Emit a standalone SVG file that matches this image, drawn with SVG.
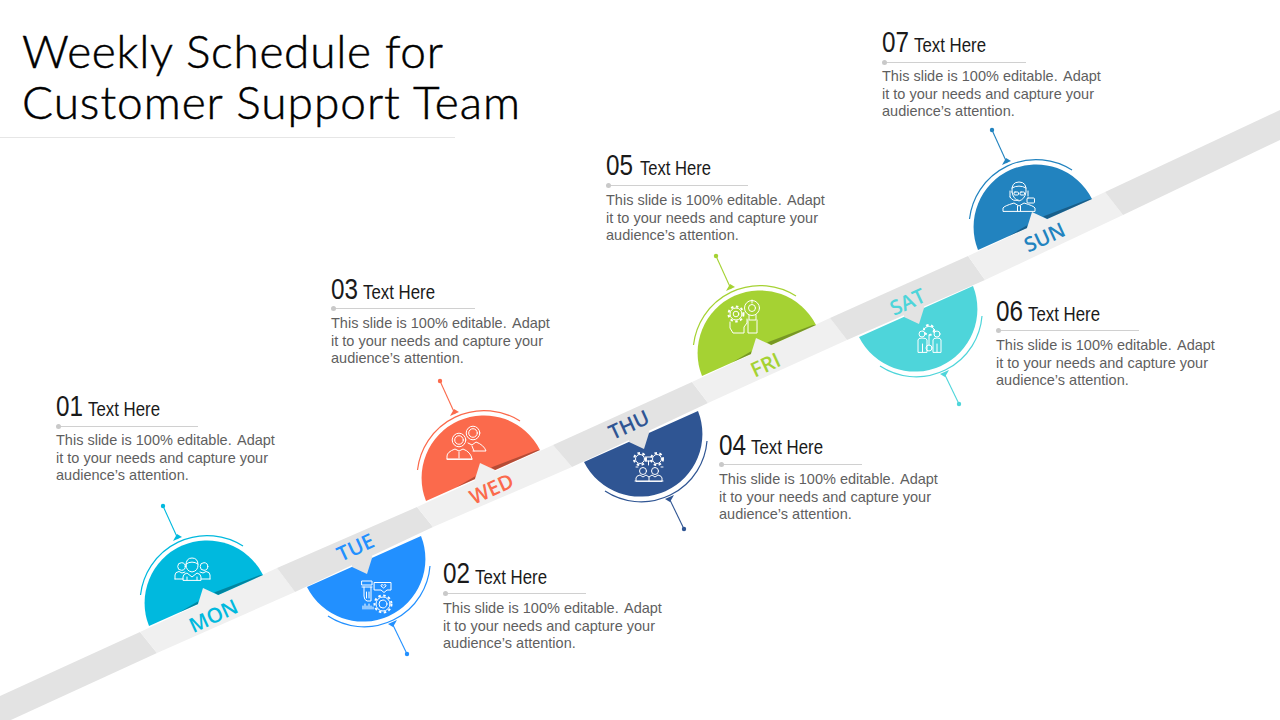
<svg xmlns="http://www.w3.org/2000/svg" width="1280" height="720" viewBox="0 0 1280 720">
<style>
text{font-family:"Liberation Sans",Arial,sans-serif}
.title{font-family:Lato,"Liberation Sans",sans-serif;font-weight:300;font-size:46px;fill:#000;stroke:#000;stroke-width:.5px}
.num{font-size:29px;fill:#1a1a1a}
.head{font-size:20px;fill:#1a1a1a}
.body{font-size:14.5px;fill:#5f5f5f;white-space:pre}
.day{font-family:"Open Sans",sans-serif;font-weight:600;font-size:20.5px;text-anchor:middle;fill:currentColor}
.rule{stroke:#d0d0d0;stroke-width:1}
.rdot{fill:#c9c9c9}
.ic{fill:none;stroke:#fff;stroke-width:1;stroke-linejoin:round;stroke-linecap:round}
.teeth{stroke-width:2;stroke-dasharray:2.500 2.500;stroke-linecap:butt}
.mon{color:#00b9de}.tue{color:#2290ff}.wed{color:#fb6a4c}.thu{color:#2f5593}.fri{color:#a5d233}.sat{color:#4ed5da}.sun{color:#2283bf}
.lead{stroke:currentColor;stroke-width:1.1;fill:none}
.tip{fill:currentColor}
</style>
<defs>
<g id="cap-up">
<path d="M-56,25A62.500,62.500 0 0 1 58,-26Z" fill="currentColor"/>
<path d="M-64.500,-6A67,67 0 0 1 38,-55" fill="none" stroke="currentColor" stroke-width="1.2"/>
<path d="M13,-6L58,-26L55,-26L9,-8.500Z" fill="#000" opacity=".28"/>
<path d="M-7,3L-26,11.500L-6.400,0Z" fill="#000" opacity=".28"/>
<path d="M13,-6L-2,-13L-7,3L-7,8L13,0Z" fill="#f0f0f0"/>
</g>
<g id="cap-down">
<path d="M-56,25A62.500,62.500 0 0 1 58,-26Z" fill="currentColor" transform="rotate(180)"/>
<path d="M65,5A66,66 0 0 1 -37,55" fill="none" stroke="currentColor" stroke-width="1.2"/>
<path d="M-13,6L2,13L7,-3L7,-8L-13,0Z" fill="#e3e3e3"/>
</g>
<g id="stem-up">
<path class="lead" d="M-27,-62L-42,-95"/>
<circle class="tip" cx="-42" cy="-95" r="2.200"/>
<path class="tip" d="M-32,-60L-23,-64L-28,-67Z"/>
</g>
<g id="stem-down">
<path class="lead" d="M27,62L42,93"/>
<circle class="tip" cx="42" cy="93" r="2.200"/>
<path class="tip" d="M32,59L23,63L28,66Z"/>
</g>
</defs>
<rect width="1280" height="720" fill="#fff"/>

<g id="band">
<path d="M0,696L140,632L157,653L0,725Z" fill="#e3e3e3"/>
<path d="M140,632L277,568L295,592L157,653Z" fill="#f0f0f0"/>
<path d="M277,568L417,507L433,527L295,592Z" fill="#e3e3e3"/>
<path d="M417,507L553,445L572,467L433,527Z" fill="#f0f0f0"/>
<path d="M553,445L692,382L708,403L572,467Z" fill="#e3e3e3"/>
<path d="M692,382L830,318L847,340L708,403Z" fill="#f0f0f0"/>
<path d="M830,318L968,256L985,280L847,340Z" fill="#e3e3e3"/>
<path d="M968,256L1105,192L1123,215L985,280Z" fill="#f0f0f0"/>
<path d="M1105,192L1280,110L1280,140L1123,215Z" fill="#e3e3e3"/>
</g>

<g id="title">
<text class="title" x="22" y="68" textLength="421" lengthAdjust="spacing">Weekly Schedule for</text>
<text class="title" x="22" y="119" textLength="498" lengthAdjust="spacing">Customer Support Team</text>
<path d="M0,137.500H455" stroke="#e6e6e6" stroke-width="1"/>
</g>

<g id="connectors">
<use href="#stem-up" class="mon" x="205" y="601"/>
<use href="#stem-down" class="tue" x="365" y="561"/>
<use href="#stem-up" class="wed" x="482" y="476"/>
<use href="#stem-down" class="thu" x="642" y="436"/>
<use href="#stem-up" class="fri" x="758" y="351"/>
<use href="#stem-down" class="sat" x="917" y="311"/>
<use href="#stem-up" class="sun" x="1034" y="225"/>
</g>

<g id="node-mon" class="mon">
<use href="#cap-up" x="205" y="601"/>
<text class="day" transform="translate(216.500,622.500) rotate(-24.6)">MON</text>
<g class="ic">
<path d="M186,565Q186,558 192,558Q198,558 198,565Q198,571 192,572Q186,571 186,565Z"/><path d="M186,564Q192,560 198,564"/>
<path d="M183,580V577Q183,574 187,573L192,577L197,573Q201,574 201,577V580ZM187,580V577M197,580V577"/>
<circle cx="181.500" cy="566.500" r="3.800"/><path d="M175,579V575Q175,572 179,571.500L182,573L185,572M175,579H183"/>
<circle cx="204" cy="566.500" r="3.800"/><path d="M210,579V575Q210,572 206,571.500L203,573L200,572M201,579H210"/>
</g>
<text class="num" x="56" y="416" textLength="27" lengthAdjust="spacingAndGlyphs">01</text>
<text class="head" x="88" y="416" textLength="72" lengthAdjust="spacingAndGlyphs">Text Here</text>
<path class="rule" d="M58,426.500H198"/><circle class="rdot" cx="58.500" cy="426.500" r="2.500"/>
<text class="body" x="56" y="445">This slide is 100% editable.  <tspan dx="-2">Adapt</tspan></text>
<text class="body" x="56" y="463">it to your needs and capture your</text>
<text class="body" x="56" y="480">audience’s attention.</text>
</g>

<g id="node-tue" class="tue">
<use href="#cap-down" x="365" y="561"/>
<text class="day" transform="translate(358.500,554) rotate(-24.6)">TUE</text>
<g class="ic">
<path d="M362,581H372V585H362ZM362,587H372M364,587V596Q364,600 367,601H371V587M366.500,592V598M369,592V598"/>
<path d="M374.500,582.500H391V590H387L384,592.500L381,590H374.500ZM383,585Q381,583.500 381,586L383.500,588L386,586Q386,583.500 384,585"/>
<circle cx="383" cy="604" r="7"/><circle cx="383" cy="604" r="4"/><circle class="teeth" cx="383" cy="604" r="8.500"/>
<path d="M363,609V606M365,609V604M367,609V606M369,609V604M371,609V606M373,609V607"/>
</g>
<text class="num" x="443" y="583" textLength="27" lengthAdjust="spacingAndGlyphs">02</text>
<text class="head" x="475" y="584" textLength="72" lengthAdjust="spacingAndGlyphs">Text Here</text>
<path class="rule" d="M445,593.500H586"/><circle class="rdot" cx="445.500" cy="593.500" r="2.500"/>
<text class="body" x="443" y="613">This slide is 100% editable.  <tspan dx="-2">Adapt</tspan></text>
<text class="body" x="443" y="631">it to your needs and capture your</text>
<text class="body" x="443" y="648">audience’s attention.</text>
</g>

<g id="node-wed" class="wed">
<use href="#cap-up" x="482" y="476"/>
<text class="day" transform="translate(494.500,495.500) rotate(-24.6)">WED</text>
<g class="ic">
<circle cx="459" cy="440" r="6.800"/><circle cx="459" cy="440" r="4.300"/><path d="M447,459V456Q447,452 455,449L459,451L463,449Q471,452 472,459ZM447,459H472M459,452V458"/>
<circle cx="473" cy="433" r="6.800"/><circle cx="473" cy="433" r="4.300"/><path d="M468,443L472,445L476,442Q484,445 486,451H473M472,446L474,451"/>
</g>
<text class="num" x="331" y="299" textLength="27" lengthAdjust="spacingAndGlyphs">03</text>
<text class="head" x="363" y="299" textLength="72" lengthAdjust="spacingAndGlyphs">Text Here</text>
<path class="rule" d="M333,308.500H475"/><circle class="rdot" cx="333.500" cy="308.500" r="2.500"/>
<text class="body" x="331" y="328">This slide is 100% editable.  <tspan dx="-2">Adapt</tspan></text>
<text class="body" x="331" y="346">it to your needs and capture your</text>
<text class="body" x="331" y="363">audience’s attention.</text>
</g>

<g id="node-thu" class="thu">
<use href="#cap-down" x="642" y="436"/>
<text class="day" transform="translate(632,431.500) rotate(-24.6)">THU</text>
<g class="ic">
<circle cx="640" cy="459" r="4.500"/><circle class="teeth" cx="640" cy="459" r="6"/><circle cx="657" cy="459" r="4.500"/><circle class="teeth" cx="657" cy="459" r="6"/>
<path d="M645,457H652M645,461H652M648.500,461V465"/>
<circle cx="643" cy="471" r="3.500"/><circle cx="655" cy="471" r="3.500"/>
<path d="M636,481V478Q636,476 640,475L643,477L646,475L649,477L652,475L655,477L658,475Q662,476 662,478V481ZM635,481H663M649,477V481M636,467H638M661,467H663"/>
</g>
<text class="num" x="719" y="455" textLength="27" lengthAdjust="spacingAndGlyphs">04</text>
<text class="head" x="751" y="454" textLength="72" lengthAdjust="spacingAndGlyphs">Text Here</text>
<path class="rule" d="M721,464.500H862"/><circle class="rdot" cx="721.500" cy="464.500" r="2.500"/>
<text class="body" x="719" y="484">This slide is 100% editable.  <tspan dx="-2">Adapt</tspan></text>
<text class="body" x="719" y="502">it to your needs and capture your</text>
<text class="body" x="719" y="519">audience’s attention.</text>
</g>

<g id="node-fri" class="fri">
<use href="#cap-up" x="758" y="351"/>
<text class="day" transform="translate(768.500,371.500) rotate(-24.6)">FRI</text>
<g class="ic">
<circle cx="736" cy="314" r="6"/><circle class="teeth" cx="736" cy="314" r="7.500"/><circle cx="736" cy="314" r="2.800"/>
<path d="M730,322V328L733,333H744V327L747,323V319"/>
<circle cx="752" cy="308" r="7.500"/><circle cx="752" cy="308" r="3.500"/><path d="M749,315V320H756V315M748,320V333H757V320M752,300V303"/>
</g>
<text class="num" x="606" y="175" textLength="27" lengthAdjust="spacingAndGlyphs">05</text>
<text class="head" x="640" y="175" textLength="71" lengthAdjust="spacingAndGlyphs">Text Here</text>
<path class="rule" d="M608,185.500H748"/><circle class="rdot" cx="608.500" cy="185.500" r="2.500"/>
<text class="body" x="606" y="205">This slide is 100% editable.  <tspan dx="-2">Adapt</tspan></text>
<text class="body" x="606" y="223">it to your needs and capture your</text>
<text class="body" x="606" y="240">audience’s attention.</text>
</g>

<g id="node-sat" class="sat">
<use href="#cap-down" x="917" y="311"/>
<text class="day" transform="translate(910.500,308.500) rotate(-24.6)">SAT</text>
<g class="ic">
<circle cx="922" cy="334" r="3"/><circle cx="937" cy="334" r="3"/>
<path d="M918,352V340Q918,338 922,338Q927,338 927,340V352ZM922.500,352V344M933,352V340Q933,338 937,338Q941,338 941,340V352ZM937,352V344"/>
<path d="M923,330Q929,322 935,330"/><circle class="teeth" cx="929" cy="330" r="5"/><path d="M929,335V345"/><circle cx="929" cy="348" r="3"/>
</g>
<text class="num" x="996" y="321" textLength="27" lengthAdjust="spacingAndGlyphs">06</text>
<text class="head" x="1028" y="321" textLength="72" lengthAdjust="spacingAndGlyphs">Text Here</text>
<path class="rule" d="M998,330.500H1139"/><circle class="rdot" cx="998.500" cy="330.500" r="2.500"/>
<text class="body" x="996" y="350">This slide is 100% editable.  <tspan dx="-2">Adapt</tspan></text>
<text class="body" x="996" y="368">it to your needs and capture your</text>
<text class="body" x="996" y="385">audience’s attention.</text>
</g>

<g id="node-sun" class="sun">
<use href="#cap-up" x="1034" y="225"/>
<text class="day" transform="translate(1047.500,244) rotate(-24.6)">SUN</text>
<g class="ic">
<path d="M1012,192Q1011,182 1019,182Q1027,182 1026,192Q1025,199 1019,201Q1013,199 1012,192Z"/><path d="M1012,188Q1019,184 1026,188"/>
<rect x="1014" y="192" width="4.500" height="3" rx="1"/><rect x="1020" y="192" width="4.500" height="3" rx="1"/>
<path d="M1010,191V197M1028,191V196M1010,197Q1013,202 1018,200"/><rect x="1027" y="198" width="7.500" height="5" rx="1"/>
<path d="M1003,211V208Q1004,206 1014,203L1019,206L1024,203Q1034,206 1035,208V211ZM1017.500,206V211M1020.500,206V211"/>
</g>
<text class="num" x="882" y="52" textLength="27" lengthAdjust="spacingAndGlyphs">07</text>
<text class="head" x="914" y="52" textLength="72" lengthAdjust="spacingAndGlyphs">Text Here</text>
<path class="rule" d="M884,62.500H1026"/><circle class="rdot" cx="884.500" cy="62.500" r="2.500"/>
<text class="body" x="882" y="81">This slide is 100% editable.  <tspan dx="-2">Adapt</tspan></text>
<text class="body" x="882" y="99">it to your needs and capture your</text>
<text class="body" x="882" y="116">audience’s attention.</text>
</g>
</svg>
